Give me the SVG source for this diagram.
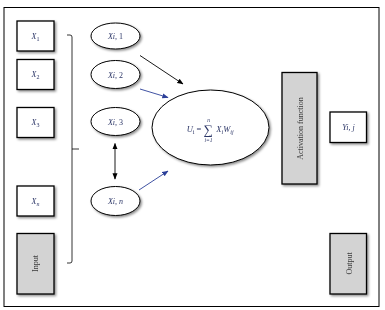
<svg xmlns="http://www.w3.org/2000/svg" width="385" height="310" viewBox="0 0 385 310">
<style>
.box{fill:#fff;stroke:#000;stroke-width:1.3}
.gbox{fill:#d3d3d3;stroke:#000;stroke-width:1.3}
.ell{fill:#fff;stroke:#000;stroke-width:1}
.lbl{font-family:"Liberation Serif",serif;font-style:italic;font-size:8px;fill:#2b3566;text-anchor:middle}
.sub{font-size:6px;font-style:normal}
.vl{font-family:"Liberation Serif",serif;font-size:8px;fill:#3a3a3a;text-anchor:middle}
.con{fill:none;stroke-width:0.9}
</style>
<defs>
<filter id="sh" x="-20%" y="-20%" width="150%" height="150%">
<feDropShadow dx="1.5" dy="1.5" stdDeviation="0.8" flood-color="#000" flood-opacity="0.45"/>
</filter>
<marker id="ak" viewBox="0 0 10 10" refX="9" refY="5" markerWidth="7" markerHeight="7" orient="auto-start-reverse"><path d="M0,1 L10,5 L0,9 z" fill="#000"/></marker>
<marker id="ab" viewBox="0 0 10 10" refX="9" refY="5" markerWidth="7" markerHeight="7" orient="auto"><path d="M0,1 L10,5 L0,9 z" fill="#2b3f99"/></marker>
</defs>
<rect x="4" y="7.5" width="375" height="299" fill="#fff" stroke="#000" stroke-width="1"/>

<g id="x1" filter="url(#sh)"><rect class="box" x="17" y="21" width="37" height="30"/><text class="lbl" x="35.5" y="38.5">X<tspan class="sub" dy="2">1</tspan></text></g>
<g id="x2" filter="url(#sh)"><rect class="box" x="17" y="59.5" width="37" height="30"/><text class="lbl" x="35.5" y="77">X<tspan class="sub" dy="2">2</tspan></text></g>
<g id="x3" filter="url(#sh)"><rect class="box" x="17" y="107.5" width="37" height="30"/><text class="lbl" x="35.5" y="125">X<tspan class="sub" dy="2">3</tspan></text></g>
<g id="xn" filter="url(#sh)"><rect class="box" x="17" y="186" width="37" height="30"/><text class="lbl" x="35.5" y="203.5">X<tspan class="sub" dy="2" style="font-style:italic">n</tspan></text></g>
<g id="input" filter="url(#sh)"><rect class="gbox" x="17" y="233.5" width="37" height="60.5"/><text class="vl" transform="translate(38,263.5) rotate(-90)">Input</text></g>

<g id="bracket"><path d="M67,35 H70 Q72,35 72,37 V261 Q72,263 70,263 H67 M72,149 H79" fill="none" stroke="#000" stroke-width="0.8"/></g>

<g id="xi1" filter="url(#sh)"><ellipse class="ell" cx="115.5" cy="36" rx="24.5" ry="13"/><text class="lbl" x="115.5" y="39">Xi, <tspan style="font-style:normal">1</tspan></text></g>
<g id="xi2" filter="url(#sh)"><ellipse class="ell" cx="115.5" cy="74.5" rx="24.5" ry="14"/><text class="lbl" x="115.5" y="77.5">Xi, <tspan style="font-style:normal">2</tspan></text></g>
<g id="xi3" filter="url(#sh)"><ellipse class="ell" cx="115.5" cy="121.5" rx="24.5" ry="14"/><text class="lbl" x="115.5" y="124.5">Xi, <tspan style="font-style:normal">3</tspan></text></g>
<g id="xin" filter="url(#sh)"><ellipse class="ell" cx="115.5" cy="201" rx="24.5" ry="14.5"/><text class="lbl" x="115.5" y="204">Xi, n</text></g>

<g id="sum" filter="url(#sh)"><ellipse class="ell" cx="210.5" cy="127.5" rx="58.5" ry="37.5"/>
<text class="lbl" x="194" y="132" style="font-size:8.5px">U<tspan class="sub" dy="2">i</tspan><tspan dy="-2" style="font-style:normal"> =</tspan></text>
<text class="lbl" x="208.5" y="134" style="font-size:13px;font-style:normal">∑</text>
<text class="lbl" x="208.5" y="122" style="font-size:5.5px">n</text>
<text class="lbl" x="208.5" y="142" style="font-size:5.5px">i=1</text>
<text class="lbl" x="225" y="132" style="font-size:8.5px">X<tspan class="sub" dy="2" style="font-style:italic">i</tspan><tspan dy="-2">W</tspan><tspan class="sub" dy="2" style="font-style:italic">ij</tspan></text>
</g>

<g id="act" filter="url(#sh)"><rect class="gbox" x="282" y="72.5" width="35" height="111.5"/><text class="vl" transform="translate(302.5,128.5) rotate(-90)">Activation function</text></g>
<g id="yij" filter="url(#sh)"><rect class="box" x="330" y="112" width="36.5" height="30.5"/><text class="lbl" x="348.5" y="130">Yi, j</text></g>
<g id="output" filter="url(#sh)"><rect class="gbox" x="330" y="233.5" width="36.5" height="60.5"/><text class="vl" transform="translate(351.5,263.5) rotate(-90)">Output</text></g>

<g id="connectors">
<line class="con" x1="140" y1="55.5" x2="183" y2="84" stroke="#000" marker-end="url(#ak)"/>
<line class="con" x1="140" y1="89" x2="168" y2="97.5" stroke="#2b3f99" marker-end="url(#ab)"/>
<line class="con" x1="139" y1="190" x2="168" y2="171" stroke="#2b3f99" marker-end="url(#ab)"/>
<line class="con" x1="115" y1="143.5" x2="115" y2="179" stroke="#000" stroke-width="1.1" marker-start="url(#ak)" marker-end="url(#ak)"/>
</g>
</svg>
